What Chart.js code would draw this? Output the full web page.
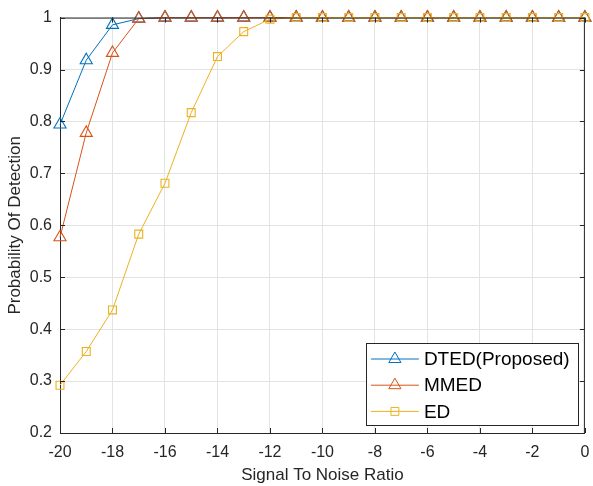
<!DOCTYPE html>
<html>
<head>
<meta charset="utf-8">
<script src="https://cdn.jsdelivr.net/npm/chart.js@4/dist/chart.umd.min.js"></script>
<style>
  html, body { margin: 0; padding: 0; background: #fff; }
  #wrap { width: 593px; height: 486px; position: relative; }
</style>
</head>
<body>
<div id="wrap"><canvas id="pdChart" width="593" height="486"></canvas></div>
<script>
// SNR values (x axis)
const snrValues = [-20, -19, -18, -17, -16, -15, -14, -13, -12, -11, -10, -9, -8, -7, -6, -5, -4, -3, -2, -1, 0];

// probability of detection
const dtedValues = [0.794, 0.918, 0.986, 0.998, 1, 1, 1, 1, 1, 1, 1, 1, 1, 1, 1, 1, 1, 1, 1, 1, 1];
const mmedValues = [0.577, 0.778, 0.932, 0.998, 1, 1, 1, 1, 1, 1, 1, 1, 1, 1, 1, 1, 1, 1, 1, 1, 1];
const edValues   = [0.292, 0.357, 0.437, 0.583, 0.681, 0.817, 0.925, 0.973, 0.997, 1, 1, 1, 1, 1, 1, 1, 1, 1, 1, 1, 1];

const seriesLabels = ['DTED(Proposed)', 'MMED', 'ED'];

const axisColor = '#262626';
const gridColor = '#e3e3e3';
const fontName = '"Liberation Sans", Arial, Helvetica, sans-serif';

function toPoints(ys) {
    return snrValues.map((x, i) => ({ x: x, y: ys[i] }));
}

// box round the axes plus inward tick marks (matlab style)
const boxPlugin = {
    id: 'boxTicks',
    afterDatasetsDraw(chart) {
        const { ctx, chartArea: a, scales } = chart;
        ctx.save();
        ctx.strokeStyle = axisColor;
        ctx.lineWidth = 1;
        ctx.beginPath();
        ctx.moveTo(a.left, a.top + 0.5);
        ctx.lineTo(a.right, a.top + 0.5);
        ctx.moveTo(a.right - 0.5, a.top);
        ctx.lineTo(a.right - 0.5, a.bottom);
        const tl = 5;
        scales.x.ticks.forEach(t => {
            const px = Math.round(scales.x.getPixelForValue(t.value)) + 0.5;
            ctx.moveTo(px, a.bottom);
            ctx.lineTo(px, a.bottom - tl);
            ctx.moveTo(px, a.top);
            ctx.lineTo(px, a.top + tl);
        });
        scales.y.ticks.forEach(t => {
            const py = Math.round(scales.y.getPixelForValue(t.value)) + 0.5;
            ctx.moveTo(a.left, py);
            ctx.lineTo(a.left + tl, py);
            ctx.moveTo(a.right, py);
            ctx.lineTo(a.right - tl, py);
        });
        ctx.stroke();
        ctx.restore();
    }
};

// legend inside the plot, bottom right
const legendPlugin = {
    id: 'insideLegend',
    afterDraw(chart) {
        const { ctx, chartArea: a } = chart;
        const boxW = 212, boxH = 82;
        const bx = a.right - 7 - boxW, by = a.bottom - 8 - boxH;
        ctx.save();
        ctx.fillStyle = '#fff';
        ctx.fillRect(bx, by, boxW, boxH);
        ctx.strokeStyle = axisColor;
        ctx.lineWidth = 1;
        ctx.strokeRect(Math.round(bx) + 0.5, Math.round(by) + 0.5, boxW, boxH);
        ctx.font = '19px ' + fontName;
        ctx.textBaseline = 'middle';
        seriesLabels.forEach((label, i) => {
            const ds = chart.data.datasets.find(d => d.label === label);
            const y = by + 16 + i * 26.2;
            ctx.strokeStyle = ds.borderColor;
            ctx.lineWidth = 1;
            ctx.beginPath();
            ctx.moveTo(bx + 5, y);
            ctx.lineTo(bx + 53, y);
            ctx.stroke();
            ctx.fillStyle = 'rgba(0,0,0,0)';
            Chart.helpers.drawPoint(ctx, {
                pointStyle: ds.pointStyle,
                radius: ds.pointRadius,
                rotation: 0,
                borderWidth: 1
            }, bx + 29, y);
            ctx.fillStyle = '#000';
            ctx.fillText(label, bx + 58, y + 1);
        });
        ctx.restore();
    }
};

new Chart(document.getElementById('pdChart'), {
    type: 'line',
    data: {
        datasets: [
            {
                label: seriesLabels[0],
                data: toPoints(dtedValues),
                borderColor: '#0072BD',
                borderWidth: 1,
                pointStyle: 'triangle',
                pointRadius: 7,
                pointBorderWidth: 1.1,
                pointBackgroundColor: 'rgba(0,0,0,0)',
                clip: false,
                order: 2
            },
            {
                label: seriesLabels[1],
                data: toPoints(mmedValues),
                borderColor: '#D95319',
                borderWidth: 1,
                pointStyle: 'triangle',
                pointRadius: 7,
                pointBorderWidth: 1.1,
                pointBackgroundColor: 'rgba(0,0,0,0)',
                clip: false,
                order: 1
            },
            {
                label: seriesLabels[2],
                data: toPoints(edValues),
                borderColor: '#EDB120',
                borderWidth: 1,
                pointStyle: 'rect',
                pointRadius: 5.6,
                pointBorderWidth: 1.1,
                pointBackgroundColor: 'rgba(0,0,0,0)',
                clip: false,
                order: 0
            }
        ]
    },
    options: {
        responsive: false,
        animation: false,
        layout: { padding: { top: 17, right: 4, left: 5, bottom: 0 } },
        plugins: {
            legend: { display: false },
            tooltip: { enabled: false }
        },
        scales: {
            x: {
                type: 'linear',
                min: -20,
                max: 0,
                grid: { color: gridColor, drawTicks: false },
                border: { color: axisColor, width: 1 },
                ticks: {
                    stepSize: 2,
                    color: axisColor,
                    padding: 10,
                    maxRotation: 0,
                    font: { family: fontName, size: 16 }
                },
                title: {
                    display: true,
                    text: 'Signal To Noise Ratio',
                    color: axisColor,
                    padding: { top: 1, bottom: 0 },
                    font: { family: fontName, size: 17 }
                },
                afterFit(scale) {
                    scale.height = 53;
                    scale.paddingRight = 0;
                    scale.paddingLeft = 0;
                }
            },
            y: {
                min: 0.2,
                max: 1,
                grid: { color: gridColor, drawTicks: false },
                border: { color: axisColor, width: 1 },
                ticks: {
                    stepSize: 0.1,
                    color: axisColor,
                    padding: 8,
                    font: { family: fontName, size: 16 },
                    callback: function (value) {
                        return value === 1 ? '1' : value.toFixed(1);
                    }
                },
                title: {
                    display: true,
                    text: 'Probability Of Detection',
                    color: axisColor,
                    padding: { top: 0, bottom: 2 },
                    font: { family: fontName, size: 17 }
                },
                afterFit(scale) { scale.width = 55; }
            }
        }
    },
    plugins: [boxPlugin, legendPlugin]
});
</script>
</body>
</html>
